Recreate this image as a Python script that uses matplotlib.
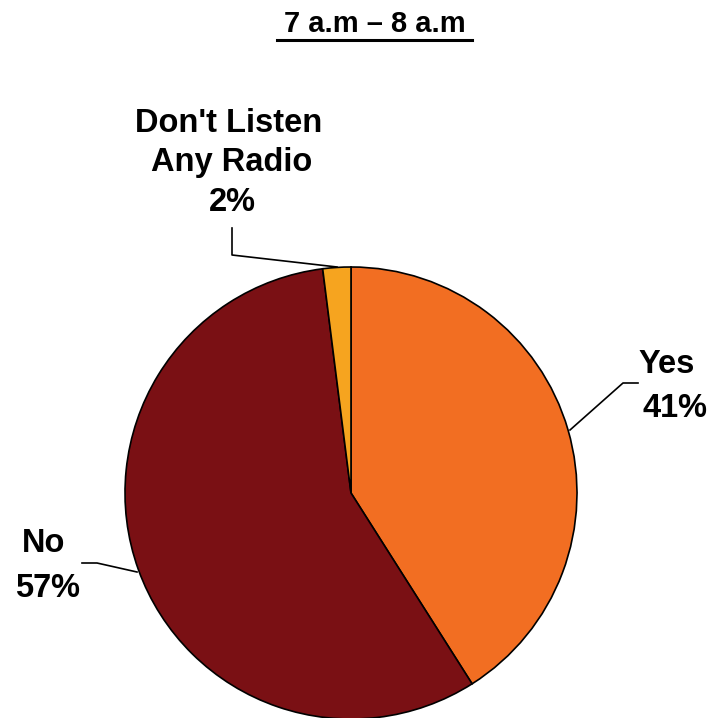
import matplotlib.pyplot as plt
from matplotlib.lines import Line2D

# данные
labels = ["Yes", "No", "Don't Listen\nAny Radio"]
shares = [41, 57, 2]
colors = ["#F26E22", "#7A1014", "#F6A41F"]
title = "7 a.m \u2013 8 a.m"

W, H = 713, 718
fig = plt.figure(figsize=(W / 100, H / 100), dpi=100)
plt.rcParams["font.family"] = ["Liberation Sans", "DejaVu Sans"]

# пирог: центр (351, 493) px, радиус 226 px
cx, cy, r = 351, 493, 226
ax = fig.add_axes([(cx - r) / W, (H - cy - r) / H, 2 * r / W, 2 * r / H])
ax.pie(shares, colors=colors, startangle=90, counterclock=False, radius=1,
       wedgeprops={"edgecolor": "black", "linewidth": 1.2})
ax.set_xlim(-1, 1)
ax.set_ylim(-1, 1)
ax.set_aspect("auto")
ax.axis("off")


def fx(px):
    return px / W


def fy(py):
    return 1 - py / H


# заголовок с подчеркиванием
fig.text(fx(375), fy(32), title, ha="center", va="baseline", fontsize=21, fontweight="bold")
fig.add_artist(Line2D([fx(277), fx(472)], [fy(40), fy(40)], color="black", lw=2.2))

# подписи: каждая строка отдельно, по базовой линии (x центра, y базовой линии в px)
fs = 23.5
label_lines = [
    ("Don't Listen", 229, 132),
    ("Any Radio", 232, 171),
    (f"{shares[2]}%", 232, 211),
    (labels[0], 667, 373),
    (f"{shares[0]}%", 675, 417),
    (labels[1], 44, 552),
    (f"{shares[1]}%", 48, 597),
]
for txt, px, py in label_lines:
    fig.text(fx(px), fy(py), txt, ha="center", va="baseline", fontsize=fs, fontweight="bold")

# выноски
leaders = [
    ([232, 232, 337], [228, 255, 267]),
    ([638, 623, 570], [383, 383, 430]),
    ([82, 97, 137], [563, 563, 572]),
]
for xs, ys in leaders:
    fig.add_artist(Line2D([fx(v) for v in xs], [fy(v) for v in ys], color="black", lw=1.2))

fig.savefig("out.png", dpi=100)
